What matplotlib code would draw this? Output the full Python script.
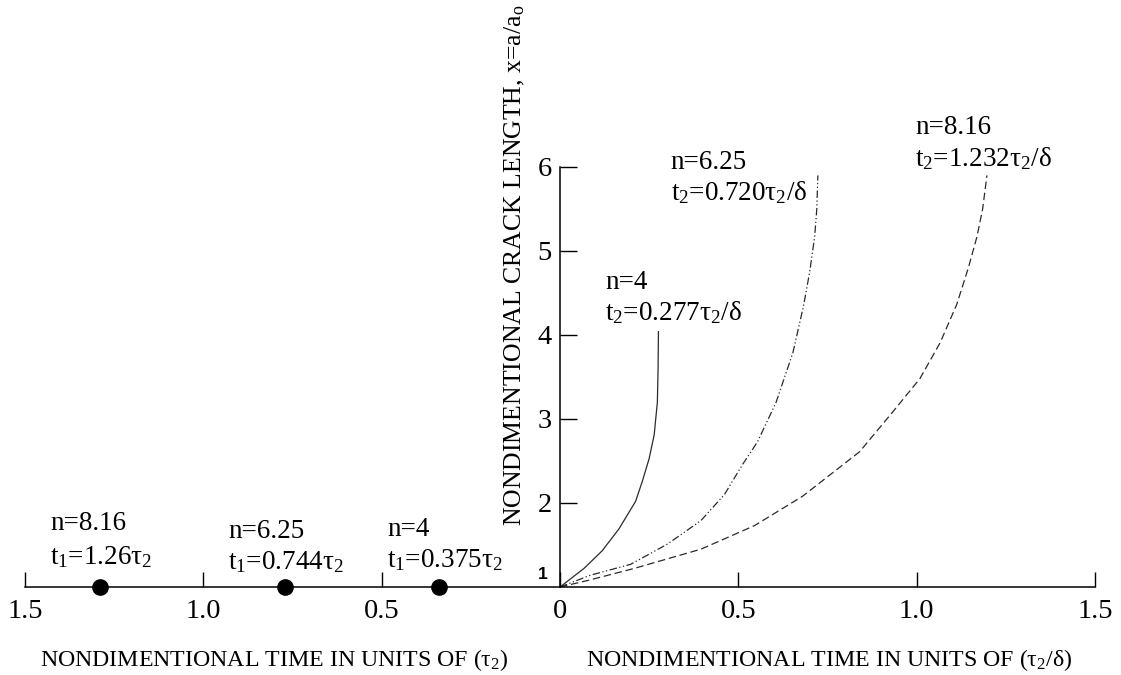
import matplotlib
matplotlib.use("Agg")
import matplotlib.pyplot as plt

plt.rcParams['font.family'] = ['Liberation Serif', 'DejaVu Serif']
plt.rcParams['mathtext.fontset'] = 'custom'
plt.rcParams['mathtext.rm'] = 'Liberation Serif'
plt.rcParams['mathtext.it'] = 'Liberation Serif:italic'

# crack growth curves, right half (time in units of tau2/delta)
t_n4 = [0, 0.067, 0.118, 0.165, 0.212, 0.231, 0.250, 0.264, 0.273, 0.275, 0.276]
x_n4 = [1, 1.22, 1.43, 1.69, 2.02, 2.26, 2.53, 2.81, 3.20, 3.60, 4.04]

t_n625 = [0, 0.085, 0.198, 0.301, 0.395, 0.461, 0.512, 0.554, 0.606, 0.653,
          0.683, 0.700, 0.714, 0.720, 0.723]
x_n625 = [1, 1.14, 1.27, 1.51, 1.79, 2.10, 2.46, 2.73, 3.20, 3.79,
          4.35, 4.75, 5.17, 5.50, 5.90]

t_n816 = [0, 0.08, 0.207, 0.395, 0.545, 0.68, 0.84, 0.934, 1.009, 1.066,
          1.112, 1.145, 1.169, 1.185, 1.197]
x_n816 = [1, 1.08, 1.22, 1.45, 1.73, 2.08, 2.61, 3.09, 3.48, 3.91,
          4.36, 4.80, 5.17, 5.50, 5.90]

# incubation times t1, left half (time in units of tau2), plotted as negative x
t1_vals = [1.29, 0.77, 0.34]

xticks = [-1.5, -1.0, -0.5, 0, 0.5, 1.0, 1.5]
xtick_labels = ['1.5', '1.0', '0.5', '0', '0.5', '1.0', '1.5']
yticks = [2, 3, 4, 5, 6]

fig = plt.figure(figsize=(11.21, 6.75), dpi=100)
ax = fig.add_axes([25 / 1121, 1 - 587 / 675, 1070 / 1121, 420 / 675])
ax.set_xlim(-1.5, 1.5)
ax.set_ylim(1, 6)

lc = '#2a2a2a'
ax.plot(t_n4, x_n4, color=lc, lw=0.9, linestyle='-')
ax.plot(t_n625, x_n625, color=lc, lw=0.9, linestyle=(0, (6, 2, 1, 2, 1, 2)))
ax.plot(t_n816, x_n816, color=lc, lw=0.9, linestyle=(0, (6, 3)))
ax.plot([-v for v in t1_vals], [1] * len(t1_vals), 'o', color='black',
        markersize=11, clip_on=False, zorder=5)

# axes styling
for s in ['top', 'right']:
    ax.spines[s].set_visible(False)
ax.spines['left'].set_position(('data', 0))
ax.spines['left'].set_linewidth(1.1)
ax.spines['bottom'].set_linewidth(1.1)

ax.set_xticks(xticks)
ax.set_xticklabels(xtick_labels)
ax.set_yticks(yticks)
ax.tick_params(axis='x', direction='in', length=11, width=1.0, pad=9, labelsize=20.5)
ax.tick_params(axis='y', direction='in', length=12, width=1.0, pad=6, labelsize=20.5)
ax.text(-0.035, 1.15, '1', fontsize=12.5, fontweight='bold', family='Liberation Sans',
        ha='right', va='center')

ax.set_ylabel('NONDIMENTIONAL CRACK LENGTH, x=a/a$_\\mathrm{o}$', fontsize=18.5)
ax.yaxis.set_label_coords(0.469, 0.767)

ax.text(-0.80, 0.13, 'NONDIMENTIONAL TIME IN UNITS OF (τ$_2$)', fontsize=17.2,
        ha='center', va='center', clip_on=False)
ax.text(0.755, 0.13, 'NONDIMENTIONAL TIME IN UNITS OF (τ$_2$/δ)', fontsize=17.2,
        ha='center', va='center', clip_on=False)

# curve annotations
notes = [
    (0.995, 6.47, 6.10, 'n=8.16', 't$_2$=1.232τ$_2$/δ'),
    (0.31, 6.05, 5.69, 'n=6.25', 't$_2$=0.720τ$_2$/δ'),
    (0.126, 4.62, 4.27, 'n=4', 't$_2$=0.277τ$_2$/δ'),
    (-1.43, 1.76, 1.36, 'n=8.16', 't$_1$=1.26τ$_2$'),
    (-0.93, 1.66, 1.30, 'n=6.25', 't$_1$=0.744τ$_2$'),
    (-0.485, 1.69, 1.32, 'n=4', 't$_1$=0.375τ$_2$'),
]
for x0, y1, y2, l1, l2 in notes:
    ax.text(x0, y1, l1, fontsize=19.5, ha='left', va='center', clip_on=False)
    ax.text(x0, y2, l2, fontsize=19.5, ha='left', va='center', clip_on=False)

fig.savefig('out.png', dpi=100)
